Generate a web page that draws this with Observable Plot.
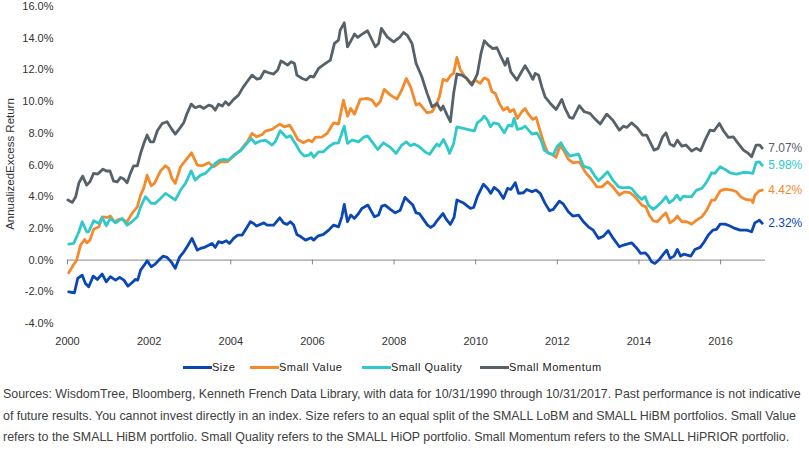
<!DOCTYPE html>
<html>
<head>
<meta charset="utf-8">
<script src="https://cdn.jsdelivr.net/npm/d3@7"></script>
<script src="https://cdn.jsdelivr.net/npm/@observablehq/plot@0.6"></script>
<style>
  html, body { margin: 0; padding: 0; background: #ffffff; }
  #wrap { position: relative; width: 809px; height: 458px; overflow: hidden; background: #fff; font-family: "Liberation Sans", Arial, sans-serif; }
  #chart { position: absolute; left: 0; top: 0; }
  #legend { position: absolute; left: 0; top: 360px; width: 809px; height: 14px; font-size: 11px; color: #222; }
  .item { position: absolute; top: 0; height: 14px; line-height: 14px; white-space: nowrap; letter-spacing: 0.5px; }
  .swatch { display: inline-block; width: 29px; height: 3px; vertical-align: middle; margin-right: 0; position: relative; top: -1px; }
  #caption { position: absolute; left: 3px; top: 384px; width: 806px; font-size: 12.4px; line-height: 21.5px; color: #404040; white-space: nowrap; }
</style>
</head>
<body>
<div id="wrap">
  <div id="chart"></div>
  <div id="legend"></div>
  <div id="caption"></div>
</div>
<script>
// ---------- data (decimal year, annualized excess return %) ----------
const seriesNames = ["Size", "Small Value", "Small Quality", "Small Momentum"];
const seriesColors = ["#0a47b5", "#f58a2c", "#2fc9cc", "#56616a"];

const sizeData = [[2000.03,-2.00],[2000.17,-2.06],[2000.25,-1.16],[2000.36,-0.95],[2000.44,-1.47],[2000.52,-1.68],[2000.63,-1.01],[2000.73,-1.22],[2000.85,-0.88],[2000.95,-1.37],[2001.05,-1.05],[2001.18,-1.26],[2001.28,-1.09],[2001.38,-1.26],[2001.48,-1.64],[2001.58,-1.43],[2001.66,-1.22],[2001.72,-1.26],[2001.79,-0.63],[2001.88,-0.32],[2001.95,-0.04],[2002.05,-0.42],[2002.15,-0.25],[2002.24,0.00],[2002.34,0.25],[2002.44,0.17],[2002.54,-0.11],[2002.64,-0.52],[2002.75,0.21],[2002.85,0.52],[2002.93,0.84],[2003.05,1.37],[2003.18,0.63],[2003.26,0.74],[2003.35,0.80],[2003.54,1.05],[2003.62,0.80],[2003.70,1.16],[2003.79,1.09],[2003.89,1.22],[2003.97,1.05],[2004.07,1.37],[2004.17,1.58],[2004.28,1.58],[2004.38,2.00],[2004.48,2.42],[2004.56,2.31],[2004.63,2.15],[2004.81,2.35],[2004.89,2.21],[2005.05,2.21],[2005.20,2.67],[2005.29,2.35],[2005.38,2.25],[2005.46,2.42],[2005.54,2.21],[2005.62,1.62],[2005.72,1.47],[2005.83,1.26],[2005.97,1.41],[2006.03,1.26],[2006.13,1.51],[2006.27,1.62],[2006.40,1.89],[2006.52,2.21],[2006.64,2.10],[2006.72,2.73],[2006.78,3.51],[2006.86,2.42],[2006.94,2.84],[2007.03,2.63],[2007.13,2.94],[2007.21,3.26],[2007.36,3.47],[2007.52,2.73],[2007.62,2.84],[2007.70,3.41],[2007.78,3.47],[2007.91,3.20],[2008.03,2.98],[2008.15,3.15],[2008.27,3.96],[2008.35,3.74],[2008.46,3.47],[2008.54,2.98],[2008.62,2.94],[2008.72,2.57],[2008.82,2.21],[2008.90,2.06],[2008.98,2.21],[2009.05,2.48],[2009.20,2.94],[2009.28,2.57],[2009.38,2.25],[2009.47,2.69],[2009.54,3.79],[2009.69,3.62],[2009.87,3.26],[2009.95,3.32],[2010.04,4.00],[2010.19,4.79],[2010.29,4.52],[2010.37,4.21],[2010.45,4.59],[2010.56,4.37],[2010.68,3.89],[2010.78,4.52],[2010.86,4.46],[2010.97,4.88],[2011.05,4.21],[2011.17,4.25],[2011.25,4.46],[2011.38,4.31],[2011.48,4.42],[2011.58,4.21],[2011.70,3.58],[2011.81,3.11],[2011.90,3.20],[2012.05,3.72],[2012.15,3.53],[2012.27,3.05],[2012.38,2.78],[2012.52,2.84],[2012.64,2.42],[2012.76,2.10],[2012.88,1.89],[2013.01,1.37],[2013.13,1.51],[2013.25,1.85],[2013.37,1.37],[2013.52,0.84],[2013.62,0.95],[2013.82,1.09],[2013.93,0.80],[2014.04,0.42],[2014.15,0.46],[2014.23,0.25],[2014.31,-0.11],[2014.39,-0.21],[2014.50,0.04],[2014.60,0.38],[2014.68,0.63],[2014.76,0.11],[2014.86,0.25],[2014.94,0.67],[2015.02,0.25],[2015.10,0.38],[2015.27,0.25],[2015.37,0.67],[2015.50,0.80],[2015.60,1.16],[2015.70,1.58],[2015.81,1.89],[2015.90,1.94],[2015.99,2.27],[2016.11,2.27],[2016.23,2.15],[2016.35,2.00],[2016.48,1.89],[2016.64,1.89],[2016.76,1.79],[2016.84,2.35],[2016.95,2.52],[2017.02,2.32]];

const valueData = [[2000.03,-0.80],[2000.14,-0.32],[2000.22,-0.04],[2000.32,0.95],[2000.42,1.30],[2000.47,1.09],[2000.55,1.26],[2000.64,1.94],[2000.77,2.10],[2000.85,2.73],[2000.97,2.69],[2001.05,2.78],[2001.15,2.42],[2001.28,2.59],[2001.38,2.52],[2001.46,2.42],[2001.58,2.94],[2001.71,3.36],[2001.79,4.10],[2001.87,4.56],[2001.95,5.36],[2002.05,4.69],[2002.13,4.84],[2002.28,5.63],[2002.40,5.95],[2002.48,5.79],[2002.56,5.15],[2002.64,4.84],[2002.77,5.89],[2002.91,6.35],[2003.04,6.77],[2003.18,5.99],[2003.30,5.95],[2003.46,6.14],[2003.58,5.89],[2003.75,6.20],[2003.91,6.20],[2004.07,6.56],[2004.24,6.94],[2004.40,7.46],[2004.52,7.99],[2004.64,7.78],[2004.77,7.93],[2004.85,8.14],[2005.01,8.25],[2005.20,8.58],[2005.31,8.41],[2005.44,8.52],[2005.54,8.10],[2005.64,7.61],[2005.78,7.40],[2005.91,7.57],[2005.99,7.46],[2006.07,7.74],[2006.24,7.78],[2006.36,7.99],[2006.52,8.66],[2006.64,8.58],[2006.76,10.09],[2006.86,9.08],[2006.94,9.57],[2007.03,9.21],[2007.17,10.14],[2007.34,10.20],[2007.46,10.09],[2007.56,9.72],[2007.66,9.99],[2007.76,10.77],[2007.91,10.41],[2008.07,10.16],[2008.19,10.73],[2008.30,11.46],[2008.41,10.90],[2008.54,9.78],[2008.62,9.88],[2008.72,9.57],[2008.81,9.29],[2008.93,9.36],[2009.05,9.88],[2009.11,10.30],[2009.20,11.40],[2009.30,11.31],[2009.39,11.67],[2009.46,11.78],[2009.54,12.79],[2009.62,12.03],[2009.74,11.57],[2009.87,11.15],[2009.99,11.36],[2010.11,11.15],[2010.21,11.50],[2010.31,11.36],[2010.40,10.62],[2010.48,10.52],[2010.58,9.88],[2010.68,9.46],[2010.78,9.63],[2010.84,9.36],[2010.93,9.51],[2011.02,8.94],[2011.13,9.36],[2011.21,9.57],[2011.29,9.21],[2011.40,8.88],[2011.48,9.00],[2011.56,8.31],[2011.66,7.46],[2011.76,6.77],[2011.87,6.69],[2011.97,6.48],[2012.07,7.26],[2012.15,6.94],[2012.27,6.35],[2012.39,6.14],[2012.54,6.20],[2012.68,5.57],[2012.82,5.15],[2012.97,4.62],[2013.09,4.62],[2013.23,4.94],[2013.36,4.62],[2013.52,4.10],[2013.64,4.31],[2013.78,4.25],[2013.90,4.00],[2014.07,3.47],[2014.17,3.36],[2014.25,2.84],[2014.35,2.48],[2014.45,2.42],[2014.56,2.73],[2014.66,2.98],[2014.76,2.35],[2014.86,2.52],[2014.94,2.78],[2015.05,2.42],[2015.17,2.42],[2015.29,2.27],[2015.41,2.52],[2015.54,2.73],[2015.66,3.15],[2015.78,3.79],[2015.86,3.79],[2015.99,4.37],[2016.11,4.48],[2016.27,4.42],[2016.39,4.31],[2016.49,4.00],[2016.62,3.83],[2016.76,3.79],[2016.79,3.62],[2016.84,4.10],[2016.95,4.37],[2017.02,4.42]];

const qualityData = [[2000.03,1.01],[2000.15,1.05],[2000.28,1.79],[2000.36,2.42],[2000.47,1.79],[2000.52,1.79],[2000.64,2.48],[2000.77,2.31],[2000.85,2.69],[2000.95,2.17],[2001.05,2.63],[2001.18,2.35],[2001.34,2.63],[2001.46,2.21],[2001.58,2.42],[2001.71,2.73],[2001.79,3.36],[2001.91,4.00],[2002.05,3.58],[2002.15,3.58],[2002.28,3.89],[2002.40,4.21],[2002.52,4.00],[2002.64,3.79],[2002.77,4.42],[2002.89,4.84],[2003.03,5.63],[2003.13,5.05],[2003.26,5.36],[2003.38,5.47],[2003.50,5.79],[2003.62,6.10],[2003.73,6.31],[2003.83,6.35],[2003.95,6.31],[2004.07,6.62],[2004.24,6.90],[2004.36,7.26],[2004.50,7.68],[2004.60,7.36],[2004.72,7.51],[2004.85,7.57],[2005.01,7.26],[2005.09,7.46],[2005.21,8.16],[2005.36,7.74],[2005.46,7.85],[2005.58,7.36],[2005.70,6.83],[2005.80,6.56],[2005.91,6.62],[2005.97,6.77],[2006.03,6.48],[2006.15,6.83],[2006.27,6.83],[2006.40,7.15],[2006.52,7.36],[2006.64,7.40],[2006.78,8.45],[2006.86,7.36],[2006.97,7.57],[2007.13,7.46],[2007.25,7.74],[2007.35,7.84],[2007.48,7.40],[2007.60,6.98],[2007.74,7.40],[2007.91,7.11],[2008.05,6.73],[2008.19,7.26],[2008.30,7.46],[2008.40,7.21],[2008.49,7.32],[2008.62,7.15],[2008.76,6.83],[2008.87,6.67],[2008.97,7.05],[2009.05,7.32],[2009.11,7.19],[2009.21,7.61],[2009.30,7.15],[2009.36,6.73],[2009.46,7.36],[2009.54,8.41],[2009.70,8.31],[2009.87,8.20],[2009.97,8.16],[2010.04,8.66],[2010.15,8.88],[2010.21,9.08],[2010.29,8.83],[2010.36,8.41],[2010.44,8.66],[2010.56,8.58],[2010.70,8.03],[2010.80,8.52],[2010.89,8.45],[2010.94,8.94],[2011.02,8.25],[2011.13,8.31],[2011.21,8.45],[2011.38,7.95],[2011.50,8.03],[2011.60,7.57],[2011.68,6.94],[2011.78,6.77],[2011.90,6.62],[2011.99,7.15],[2012.09,7.40],[2012.19,6.94],[2012.31,6.56],[2012.41,6.62],[2012.52,6.69],[2012.64,5.93],[2012.80,5.79],[2012.93,5.26],[2013.01,5.00],[2013.11,5.26],[2013.23,5.57],[2013.36,5.05],[2013.50,4.62],[2013.62,4.56],[2013.74,4.59],[2013.82,4.52],[2013.95,4.10],[2014.07,3.83],[2014.15,4.00],[2014.23,3.47],[2014.35,3.20],[2014.45,3.41],[2014.56,3.68],[2014.66,4.00],[2014.74,3.62],[2014.84,3.79],[2014.93,4.10],[2015.01,3.79],[2015.09,4.04],[2015.17,4.00],[2015.29,4.00],[2015.41,4.42],[2015.54,4.52],[2015.66,4.94],[2015.78,5.51],[2015.86,5.47],[2015.99,5.89],[2016.11,5.72],[2016.23,5.51],[2016.39,5.43],[2016.56,5.53],[2016.72,5.51],[2016.79,5.47],[2016.87,6.16],[2016.95,6.20],[2017.02,5.98]];

const momentumData = [[2000.01,3.79],[2000.12,3.64],[2000.20,4.00],[2000.28,4.88],[2000.37,5.30],[2000.47,4.73],[2000.55,4.94],[2000.64,5.47],[2000.74,5.43],[2000.87,5.74],[2000.95,5.62],[2001.04,5.63],[2001.13,4.98],[2001.22,4.94],[2001.30,5.22],[2001.38,5.11],[2001.46,4.88],[2001.54,5.47],[2001.62,5.95],[2001.71,5.95],[2001.79,6.73],[2001.87,7.36],[2001.95,7.89],[2002.03,7.46],[2002.11,7.46],[2002.20,8.16],[2002.32,8.62],[2002.44,8.73],[2002.54,8.31],[2002.64,7.95],[2002.75,8.31],[2002.85,8.68],[2002.93,9.26],[2003.03,9.84],[2003.13,9.61],[2003.24,9.72],[2003.34,9.57],[2003.46,9.78],[2003.54,9.72],[2003.62,9.46],[2003.70,9.84],[2003.79,9.72],[2003.87,9.99],[2003.95,9.78],[2004.07,10.14],[2004.19,10.41],[2004.30,10.90],[2004.40,11.25],[2004.52,11.67],[2004.64,11.42],[2004.72,11.46],[2004.82,11.92],[2004.93,11.82],[2005.05,11.74],[2005.15,11.99],[2005.23,12.56],[2005.31,12.45],[2005.39,12.30],[2005.48,12.51],[2005.56,12.41],[2005.62,11.67],[2005.75,11.46],[2005.85,11.36],[2005.95,11.61],[2006.03,11.55],[2006.15,12.09],[2006.32,12.41],[2006.44,12.62],[2006.54,13.67],[2006.64,13.88],[2006.68,14.51],[2006.78,14.97],[2006.86,13.46],[2006.93,13.77],[2007.03,14.26],[2007.11,14.05],[2007.21,14.24],[2007.35,14.47],[2007.54,13.46],[2007.62,13.67],[2007.69,14.62],[2007.83,14.09],[2007.99,13.77],[2008.15,14.09],[2008.23,14.36],[2008.32,14.20],[2008.44,13.67],[2008.54,12.41],[2008.68,11.57],[2008.81,10.52],[2008.93,9.67],[2009.05,9.88],[2009.15,9.46],[2009.20,9.72],[2009.30,9.15],[2009.38,8.73],[2009.46,10.52],[2009.54,11.74],[2009.66,11.67],[2009.78,11.46],[2009.91,11.04],[2010.04,11.74],[2010.13,13.04],[2010.21,13.84],[2010.31,13.56],[2010.42,13.35],[2010.52,13.40],[2010.64,12.72],[2010.72,12.30],[2010.78,12.72],[2010.86,11.88],[2011.01,11.36],[2011.11,11.82],[2011.21,12.26],[2011.33,11.75],[2011.40,11.40],[2011.46,11.78],[2011.54,11.67],[2011.62,10.93],[2011.70,10.30],[2011.83,9.88],[2011.97,9.50],[2012.11,10.14],[2012.19,9.57],[2012.30,9.00],[2012.38,8.94],[2012.54,9.74],[2012.66,9.36],[2012.80,9.26],[2012.93,8.88],[2013.05,8.58],[2013.21,9.21],[2013.36,8.83],[2013.52,8.20],[2013.62,8.45],[2013.70,8.37],[2013.82,8.66],[2013.95,8.37],[2014.09,7.89],[2014.19,7.89],[2014.37,6.94],[2014.47,7.05],[2014.58,7.78],[2014.66,8.03],[2014.76,7.32],[2014.86,7.19],[2014.94,7.57],[2015.05,7.19],[2015.15,7.26],[2015.29,6.88],[2015.40,7.05],[2015.51,6.90],[2015.62,7.57],[2015.74,8.20],[2015.84,8.16],[2015.97,8.62],[2016.07,8.16],[2016.19,7.74],[2016.31,7.78],[2016.43,7.36],[2016.56,6.94],[2016.68,6.73],[2016.76,6.52],[2016.87,7.26],[2016.96,7.26],[2017.02,7.07]];

const xTicks = [2000, 2002, 2004, 2006, 2008, 2010, 2012, 2014, 2016];
const yTicks = [-4, -2, 0, 2, 4, 6, 8, 10, 12, 14, 16];
const yTitle = "AnnualizedExcess Return";
const captionLines = [
  "Sources: WisdomTree, Bloomberg, Kenneth French Data Library, with data for 10/31/1990 through 10/31/2017. Past performance is not indicative",
  "of future results. You cannot invest directly in an index. Size refers to an equal split of the SMALL LoBM and SMALL HiBM portfolios. Small Value",
  "refers to the SMALL HiBM portfolio. Small Quality refers to the SMALL HiOP portfolio. Small Momentum refers to the SMALL HiPRIOR portfolio."
];

// ---------- build ----------
const seriesData = [sizeData, valueData, qualityData, momentumData];
const series = seriesNames.map((name, i) => ({name, color: seriesColors[i], data: seriesData[i]}));

const lineMarks = series.map(s => Plot.line(s.data, {
  x: d => d[0], y: d => d[1], stroke: s.color, strokeWidth: 2.8,
  strokeLinejoin: "round", strokeLinecap: "round"
}));
const endLabels = series.map(s => Plot.text([s.data[s.data.length - 1]], {
  x: d => d[0], y: d => d[1], text: d => d[1].toFixed(2) + "%",
  fill: s.color, dx: 6, textAnchor: "start", fontSize: 12
}));

const chart = Plot.plot({
  width: 809,
  height: 358,
  marginLeft: 67,
  marginRight: 44,
  marginTop: 6,
  marginBottom: 35,
  style: {fontFamily: "'Liberation Sans', Arial, sans-serif", fontSize: "11px", color: "#333", background: "#fff", overflow: "visible"},
  x: {domain: [2000, 2017.1], ticks: xTicks, tickFormat: d => String(d), tickSize: 0, tickPadding: 14, label: null},
  y: {domain: [-4, 16], ticks: yTicks, tickFormat: d => d.toFixed(1) + "%", tickSize: 0, tickPadding: 14, label: null},
  marks: [
    Plot.ruleY([0], {stroke: "#868686", strokeWidth: 1}),
    Plot.ruleX(xTicks, {y1: 0, y2: -0.3, stroke: "#868686", strokeWidth: 1}),
    ...lineMarks,
    ...endLabels
  ]
});

d3.select(chart).append("text")
  .attr("transform", "translate(10,164) rotate(-90)")
  .attr("text-anchor", "middle")
  .attr("dominant-baseline", "central")
  .attr("font-size", "11.5px")
  .attr("fill", "#333")
  .text(yTitle);

document.getElementById("chart").appendChild(chart);

// legend
const legendX = [183, 250, 362, 480];
const legend = d3.select("#legend");
series.forEach((s, i) => {
  const item = legend.append("div").attr("class", "item").style("left", legendX[i] + "px");
  item.append("span").attr("class", "swatch").style("background", s.color);
  item.append("span").text(s.name);
});

// caption
d3.select("#caption").selectAll("div").data(captionLines).join("div").text(d => d);
</script>
</body>
</html>
